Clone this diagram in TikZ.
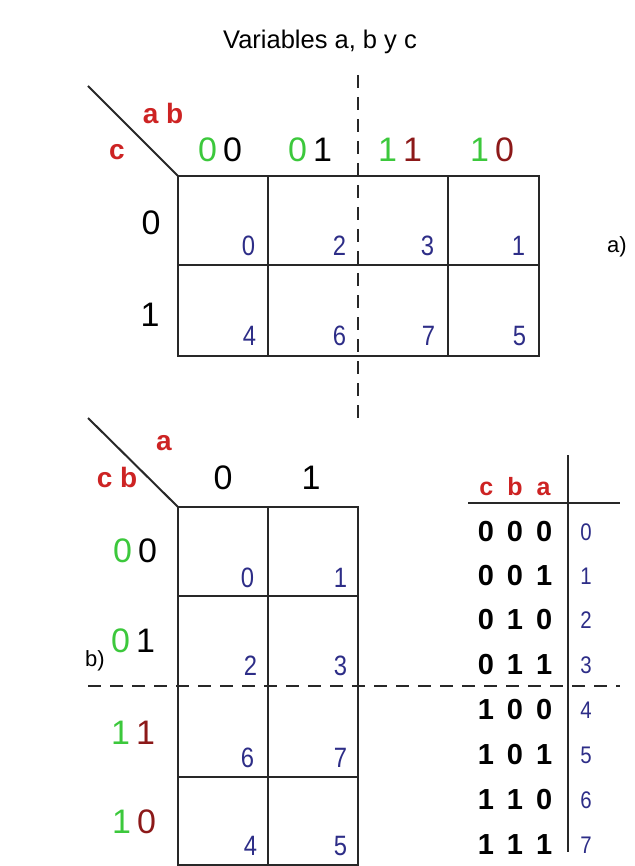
\documentclass[tikz,border=0pt]{standalone}
\usepackage{fontspec}
\setmainfont{Liberation Sans}
\newfontfamily\narrowfont[FakeStretch=0.85]{Liberation Sans}
\definecolor{kgreen}{RGB}{60,200,60}
\definecolor{kmaroon}{RGB}{140,25,25}
\definecolor{kred}{RGB}{205,35,35}
\definecolor{kblue}{RGB}{45,45,135}
\definecolor{kline}{RGB}{40,40,40}
\begin{document}
\begin{tikzpicture}[x=1pt,y=-1pt,
  every node/.style={inner sep=0pt, outer sep=0pt},
  gridline/.style={draw=kline, line width=2.5pt},
  diagline/.style={draw=kline, line width=2pt},
  dashline/.style={draw=kline, line width=2.5pt, dash pattern=on 13pt off 9pt},
  titletext/.style={font=\fontsize{25.5}{25.5}\selectfont},
  big/.style={font=\fontsize{34}{34}\selectfont},
  redlbl/.style={text=kred, font=\fontsize{28}{28}\selectfont\bfseries},
  cellnum/.style={text=kblue, font=\narrowfont\fontsize{28}{28}\selectfont, anchor=base east},
  tbldig/.style={font=\fontsize{29}{29}\selectfont\bfseries},
  tblnum/.style={text=kblue, font=\narrowfont\fontsize{24}{24}\selectfont},
  tag/.style={font=\fontsize{22}{22}\selectfont}
]
\path[use as bounding box] (0,0) rectangle (634,866);

\node[titletext] (title) at (320,42) {Variables a, b y c};

% ---------- map a) ----------
\draw[gridline] (178,176) rectangle (539,356);
\draw[gridline] (268,176) -- (268,356);
\draw[gridline] (448,176) -- (448,356);
\draw[gridline] (178,265) -- (539,265);
\draw[dashline] (358,75) -- (358,418);
\draw[diagline] (88,86) -- (178,176);

\node[redlbl] (ab) at (163,113) {a b};
\node[redlbl] (cA) at (117,152) {c};
\node[big] (h00) at (220,150) {\textcolor{kgreen}{0}\hspace{6pt}0};
\node[big] (h01) at (310,150) {\textcolor{kgreen}{0}\hspace{6pt}1};
\node[big] (h11) at (400,150) {\textcolor{kgreen}{1}\hspace{6pt}\textcolor{kmaroon}{1}};
\node[big] (h10) at (492,150) {\textcolor{kgreen}{1}\hspace{6pt}\textcolor{kmaroon}{0}};
\node[big] (r0) at (151,223) {0};
\node[big] (r1) at (150,315) {1};

\node[cellnum] (a0) at (255,256) {0};
\node[cellnum] (a2) at (346,256) {2};
\node[cellnum] (a3) at (434,256) {3};
\node[cellnum] (a1) at (525,256) {1};
\node[cellnum] (a4) at (256,345) {4};
\node[cellnum] (a6) at (346,345) {6};
\node[cellnum] (a7) at (435,345) {7};
\node[cellnum] (a5) at (526,345) {5};

\node[tag] (tagA) at (617,247) {a)};

% ---------- map b) ----------
\draw[gridline] (178,507) rectangle (358,865);
\draw[gridline] (268,507) -- (268,865);
\draw[gridline] (178,596) -- (358,596);
\draw[gridline] (178,777) -- (358,777);
\draw[dashline] (88,686) -- (620,686);
\draw[diagline] (88,418) -- (178,507);

\node[redlbl] (aB) at (164,443) {a};
\node[redlbl] (cb) at (117,477) {c b};
\node[big] (k0) at (223,478) {0};
\node[big] (k1) at (311,478) {1};
\node[big] (s00) at (135,551) {\textcolor{kgreen}{0}\hspace{6pt}0};
\node[big] (s01) at (133,641) {\textcolor{kgreen}{0}\hspace{6pt}1};
\node[big] (s11) at (133,733) {\textcolor{kgreen}{1}\hspace{6pt}\textcolor{kmaroon}{1}};
\node[big] (s10) at (134,822) {\textcolor{kgreen}{1}\hspace{6pt}\textcolor{kmaroon}{0}};

\node[cellnum] (b0) at (254,587) {0};
\node[cellnum] (b1) at (347,587) {1};
\node[cellnum] (b2) at (257,675) {2};
\node[cellnum] (b3) at (347,675) {3};
\node[cellnum] (b6) at (254,767) {6};
\node[cellnum] (b7) at (347,767) {7};
\node[cellnum] (b4) at (257,855) {4};
\node[cellnum] (b5) at (347,855) {5};

\node[tag] (tagB) at (95,661) {b)};

% ---------- table ----------
\draw[gridline] (568,455) -- (568,852);
\draw[gridline] (468,503) -- (620,503);
\node[redlbl, font=\fontsize{25}{25}\selectfont\bfseries] (cba) at (515,487) {c\hspace{14pt}b\hspace{14pt}a};

\node[tbldig] (t0) at (515,532) {0\hspace{13pt}0\hspace{13pt}0};
\node[tbldig] (t1) at (515,576) {0\hspace{13pt}0\hspace{13pt}1};
\node[tbldig] (t2) at (515,620) {0\hspace{13pt}1\hspace{13pt}0};
\node[tbldig] (t3) at (515,665) {0\hspace{13pt}1\hspace{13pt}1};
\node[tbldig] (t4) at (515,710) {1\hspace{13pt}0\hspace{13pt}0};
\node[tbldig] (t5) at (515,755) {1\hspace{13pt}0\hspace{13pt}1};
\node[tbldig] (t6) at (515,800) {1\hspace{13pt}1\hspace{13pt}0};
\node[tbldig] (t7) at (515,845) {1\hspace{13pt}1\hspace{13pt}1};

\node[tblnum] (n0) at (586,532) {0};
\node[tblnum] (n1) at (586,576) {1};
\node[tblnum] (n2) at (586,620) {2};
\node[tblnum] (n3) at (586,665) {3};
\node[tblnum] (n4) at (586,710) {4};
\node[tblnum] (n5) at (586,755) {5};
\node[tblnum] (n6) at (586,800) {6};
\node[tblnum] (n7) at (586,845) {7};
\end{tikzpicture}
\end{document}
